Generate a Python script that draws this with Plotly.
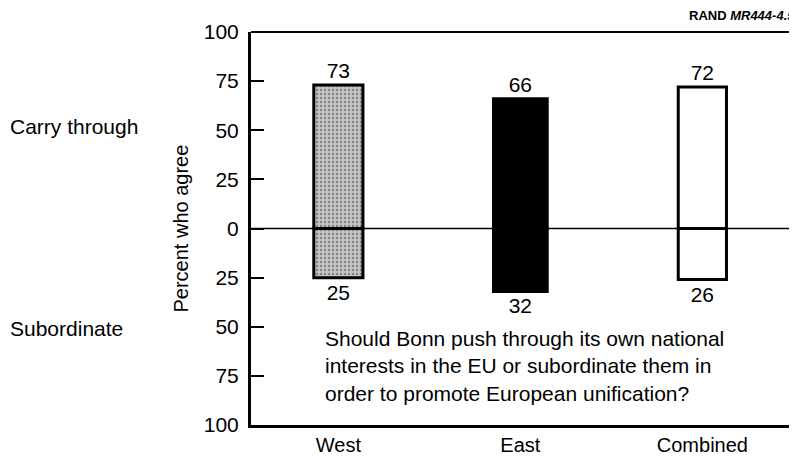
import plotly.graph_objects as go

categories = ["West", "East", "Combined"]
carry_through = [73, 66, 72]
subordinate = [25, 32, 26]
y_tickvals = [-100, -75, -50, -25, 0, 25, 50, 75, 100]
y_ticktext = ["100", "75", "50", "25", "0", "25", "50", "75", "100"]

fills = ["#c4c4c4", "#000000", "#ffffff"]
bar_widths = [0.27, 0.295, 0.265]
FONT = "Liberation Sans, Arial, Helvetica, sans-serif"

fig = go.Figure()
for vals in (carry_through, [-v for v in subordinate]):
    fig.add_trace(go.Bar(
        x=list(range(len(categories))), y=vals, width=bar_widths,
        text=[str(abs(v)) for v in vals], textposition="outside",
        textfont=dict(size=21, color="black", family=FONT),
        marker=dict(color=fills, line=dict(color="black", width=3),
                    pattern=dict(shape=[".", "", ""], fgcolor="#555555", size=4, solidity=0.3)),
        cliponaxis=False, showlegend=False,
    ))

# page body has an 8px margin: figure is sized/offset to compensate
fig.update_layout(
    width=789, height=449,
    margin=dict(l=243, r=0, t=24, b=32),
    paper_bgcolor="white", plot_bgcolor="white",
    barmode="relative",
    font=dict(family=FONT, size=20, color="black"),
    xaxis=dict(
        tickmode="array", tickvals=list(range(len(categories))), ticktext=categories,
        showgrid=False, zeroline=False,
        showline=True, linecolor="black", linewidth=3,
        ticks="", tickfont=dict(size=20),
        range=[-0.48, 2.52], automargin=False,
    ),
    yaxis=dict(
        range=[-100, 100], tickvals=y_tickvals, ticktext=y_ticktext,
        showgrid=False, zeroline=False,
        showline=True, linecolor="black", linewidth=3,
        ticks="inside", ticklen=13, tickwidth=2, tickcolor="black",
        tickfont=dict(size=21), ticklabelstandoff=5,
        automargin=False,
    ),
)

fig.add_shape(type="line", xref="paper", yref="y", x0=0, x1=1, y0=0, y1=0,
              line=dict(color="black", width=1.5), layer="above")
fig.add_shape(type="line", xref="paper", yref="paper", x0=0, x1=1, y0=1, y1=1,
              line=dict(color="black", width=2), layer="above")

fig.add_annotation(text="Percent who agree", xref="paper", yref="paper",
                   x=-0.13, y=0.5, textangle=-90, showarrow=False,
                   font=dict(size=20), xanchor="center", yanchor="middle")
fig.add_annotation(text="Carry through", xref="paper", yref="y",
                   x=-0.445, y=52, showarrow=False, xanchor="left",
                   font=dict(size=21))
fig.add_annotation(text="Subordinate", xref="paper", yref="y",
                   x=-0.445, y=-51, showarrow=False, xanchor="left",
                   font=dict(size=21))
fig.add_annotation(
    text="Should Bonn push through its own national<br>interests in the EU or subordinate them in<br>order to promote European unification?",
    xref="paper", yref="y", x=0.132, y=-49, showarrow=False,
    xanchor="left", yanchor="top", align="left", font=dict(size=21))
fig.add_annotation(text="<b>RAND <i>MR444-4.5</i></b>", xref="paper", yref="paper",
                   x=1, y=1, yshift=17, showarrow=False, xanchor="right",
                   yanchor="middle", font=dict(size=13))

fig.write_html("out.html")
